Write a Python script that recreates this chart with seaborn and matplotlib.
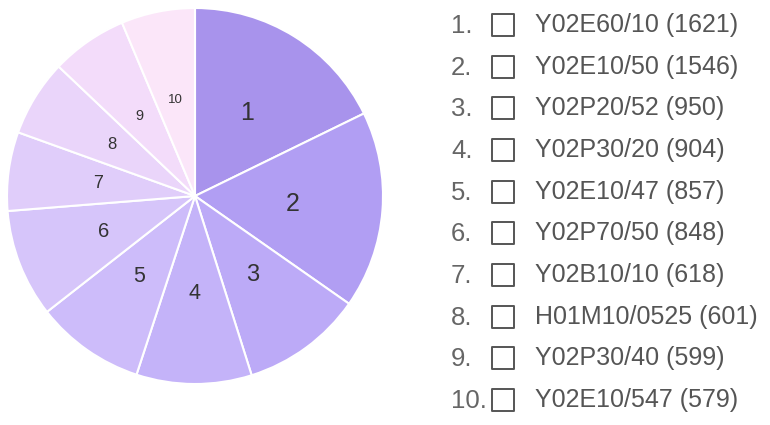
import matplotlib
matplotlib.use("Agg")
import matplotlib.pyplot as plt
import seaborn as sns
import pandas as pd

# -----------------------------
# Data
# -----------------------------
codes = ["Y02E60/10", "Y02E10/50", "Y02P20/52", "Y02P30/20", "Y02E10/47",
         "Y02P70/50", "Y02B10/10", "H01M10/0525", "Y02P30/40", "Y02E10/547"]
counts = [1621, 1546, 950, 904, 857, 848, 618, 601, 599, 579]
slice_colors = ["#a893ec", "#b19ef3", "#bcaaf7", "#c4b3f9", "#cdbcfa",
                "#d6c5fa", "#e0cdfa", "#ead5fa", "#f3dcfa", "#fbe6f9"]
label_sizes = [18, 18, 17, 15.5, 15.5, 14.5, 13, 12, 10.5, 9.5]

df = pd.DataFrame({"code": codes, "count": counts})
df["rank"] = range(1, len(df) + 1)

sns.set_theme(style="white")
plt.rcParams["font.family"] = ["Liberation Sans", "DejaVu Sans"]

fig = plt.figure(figsize=(7.7, 4.25), dpi=100)

# -----------------------------
# Pie
# -----------------------------
ax = fig.add_axes([7 / 770, (425 - 196 - 188) / 425, 376 / 770, 376 / 425])
wedges, texts = ax.pie(
    df["count"],
    labels=[str(r) for r in df["rank"]],
    colors=slice_colors,
    startangle=90,
    counterclock=False,
    labeldistance=0.52,
    wedgeprops=dict(edgecolor="white", linewidth=1.5),
    textprops=dict(color="#333333", ha="center", va="center"),
)
for t, fs in zip(texts, label_sizes):
    t.set_fontsize(fs)
ax.set_xlim(-1, 1)
ax.set_ylim(-1, 1)
ax.set_aspect("equal")

# -----------------------------
# Legend (custom, checkbox style)
# -----------------------------
lax = fig.add_axes([440 / 770, 0, 330 / 770, 1])
lax.set_xlim(440, 770)
lax.set_ylim(425, 0)
lax.axis("off")

df["y"] = 25 + (400 - 25) / 9 * (df["rank"] - 1)
df["box_x"] = 503

sns.scatterplot(data=df, x="box_x", y="y", marker="s", s=250,
                facecolor="none", edgecolor="#555555", linewidth=1.4,
                ax=lax, legend=False)

for _, row in df.iterrows():
    lax.text(451, row["y"] + 1, f"{row['rank']}.", fontsize=18.5,
             color="#666666", ha="left", va="center")
    lax.text(535, row["y"], f"{row['code']} ({row['count']})", fontsize=18,
             color="#555555", ha="left", va="center")

fig.savefig("out.png", dpi=100)
